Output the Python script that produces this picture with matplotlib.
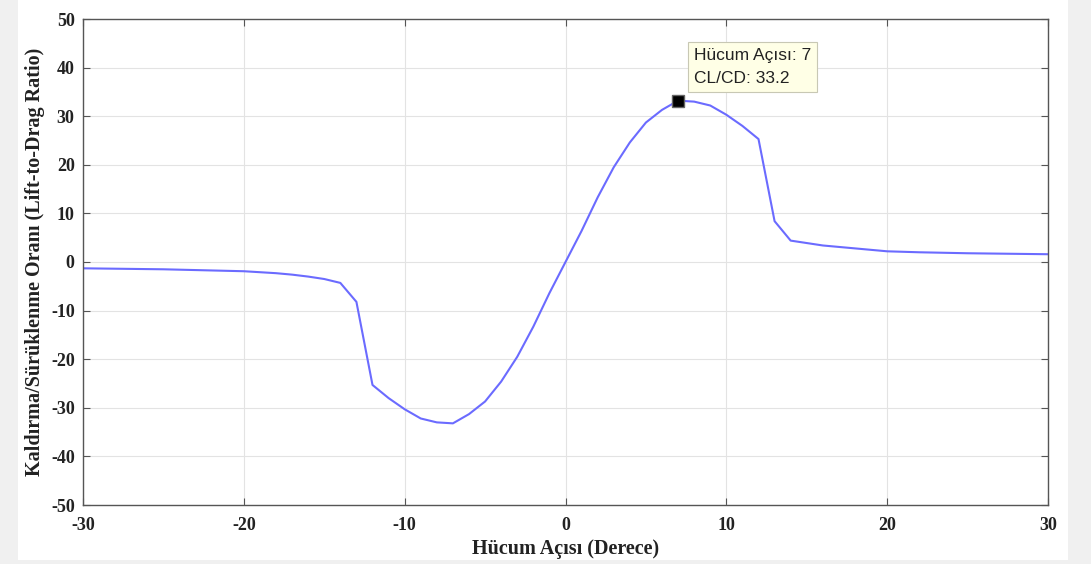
import matplotlib
matplotlib.use('Agg')  # Non-interactive backend
import matplotlib.pyplot as plt
import numpy as np

# angle of attack (deg) and CL/CD
aoa = [-30, -25, -20, -18, -17, -16, -15, -14, -13, -12, -11, -10, -9, -8, -7,
       -6, -5, -4, -3, -2, -1, 0, 1, 2, 3, 4, 5, 6, 7, 8, 9, 10, 11, 12, 13,
       14, 15, 16, 17, 18, 19, 20, 22, 25, 30]
cl_cd = [-1.3, -1.5, -1.9, -2.3, -2.6, -3.0, -3.5, -4.3, -8.2, -25.3, -28.0,
         -30.3, -32.2, -33.0, -33.2, -31.3, -28.7, -24.6, -19.5, -13.3, -6.4,
         0.0, 6.4, 13.3, 19.5, 24.6, 28.7, 31.3, 33.2, 33.0, 32.2, 30.3, 28.0,
         25.3, 8.4, 4.4, 3.9, 3.4, 3.1, 2.8, 2.5, 2.2, 2.0, 1.8, 1.6]

tip_x = 7
tip_y = 33.2

serif = ['Liberation Serif', 'DejaVu Serif']
sans = ['Liberation Sans', 'DejaVu Sans']
plt.rcParams['axes.unicode_minus'] = False

fig = plt.figure(figsize=(10.91, 5.64), dpi=100, facecolor='#f0f0f0')
fig.patches.append(plt.Rectangle((18 / 1091, 4 / 564), 1050 / 1091, 560 / 564,
                                 transform=fig.transFigure, facecolor='white',
                                 edgecolor='none', zorder=-1))
ax = fig.add_axes([83 / 1091, 1 - 505 / 564, 965 / 1091, 486 / 564])

ax.plot(aoa, cl_cd, color='#6b6bff', linewidth=1.5)
ax.plot([tip_x], [tip_y], marker='s', color='black', markersize=8,
        markeredgecolor='#666666', linestyle='none')
ax.annotate(f'Hücum Açısı: {tip_x}\nCL/CD: {tip_y}', xy=(tip_x, tip_y),
            xytext=(16, 15), textcoords='offset pixels', fontsize=12.5,
            family=sans, color='#222222', linespacing=1.6, va='bottom',
            ha='left',
            bbox=dict(boxstyle='square,pad=0.35', facecolor='#ffffe6',
                      edgecolor='#c8c8b4', linewidth=0.8))

ax.set_xlim(-30, 30)
ax.set_ylim(-50, 50)
ax.set_xticks(np.arange(-30, 31, 10))
ax.set_yticks(np.arange(-50, 51, 10))
ax.grid(True, color='#e3e3e3', linewidth=0.8)
ax.set_axisbelow(True)
ax.tick_params(direction='in', top=True, right=True, length=5,
               color='#555555', labelsize=13, pad=6)
ax.tick_params(axis='x', pad=9)
for lab in ax.get_xticklabels() + ax.get_yticklabels():
    lab.set_family(serif)
    lab.set_fontweight('bold')
    lab.set_color('#222222')
for s in ax.spines.values():
    s.set_color('#555555')
    s.set_linewidth(1.0)

ax.set_xlabel('Hücum Açısı (Derece)', family=serif, fontweight='bold',
              fontsize=14.5, color='#222222', labelpad=3)
ax.set_ylabel('Kaldırma/Sürüklenme Oranı (Lift-to-Drag Ratio)', family=serif,
              fontweight='bold', fontsize=14.5, color='#222222', labelpad=4)

fig.savefig('out.png', dpi=100, facecolor=fig.get_facecolor())
